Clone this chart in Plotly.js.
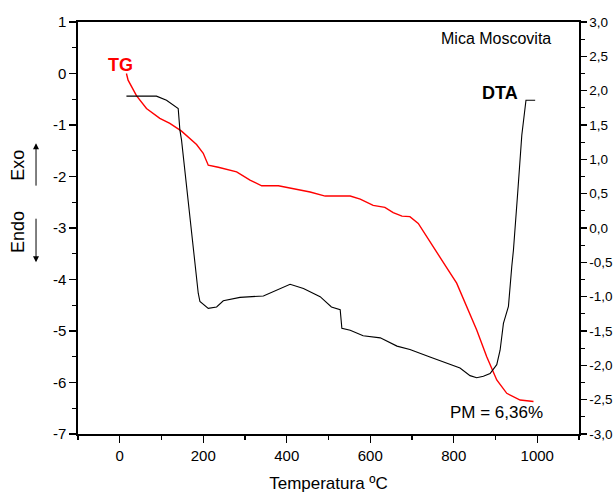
<!DOCTYPE html>
<html>
<head>
<meta charset="utf-8">
<script src="https://cdn.plot.ly/plotly-3.0.1.min.js"></script>
<style>html,body{margin:0;padding:0;background:#fff;}#chart{width:614px;height:494px;}</style>
</head>
<body>
<div id="chart"></div>
<script>
// TG curve (left axis, mass change %)
const tgTemp = [16, 20, 40, 64, 96, 120, 148, 172, 184, 200, 212, 236, 280, 312, 340, 380, 456, 492, 552, 576, 607, 635, 655, 676, 695, 715, 735, 759, 783, 807, 831, 855, 879, 903, 927, 959, 991];
const tgVal  = [0, -0.13, -0.43, -0.68, -0.87, -0.97, -1.12, -1.29, -1.38, -1.55, -1.78, -1.82, -1.91, -2.07, -2.18, -2.18, -2.30, -2.38, -2.38, -2.44, -2.56, -2.60, -2.70, -2.77, -2.78, -2.91, -3.17, -3.46, -3.77, -4.07, -4.53, -4.98, -5.50, -5.95, -6.21, -6.34, -6.37];

// DTA curve (right axis)
const dtaTemp = [16, 88, 112, 140, 144, 148, 188, 192, 212, 232, 248, 288, 344, 376, 408, 440, 480, 507, 528, 532, 552, 583, 624, 664, 695, 743, 783, 815, 839, 855, 871, 887, 903, 911, 919, 931, 939, 943, 953, 963, 973, 995];
const dtaVal  = [1.92, 1.92, 1.86, 1.74, 1.43, 1.28, -0.95, -1.07, -1.17, -1.15, -1.06, -1.01, -0.99, -0.90, -0.82, -0.88, -1.00, -1.15, -1.19, -1.46, -1.49, -1.57, -1.60, -1.72, -1.77, -1.88, -1.97, -2.04, -2.15, -2.18, -2.16, -2.12, -1.99, -1.78, -1.39, -1.14, -0.56, -0.32, 0.50, 1.35, 1.86, 1.86];

// Tick labels
const xTickVals = [0, 200, 400, 600, 800, 1000];
const xTickText = ["0", "200", "400", "600", "800", "1000"];
const yTickVals = [-7, -6, -5, -4, -3, -2, -1, 0, 1];
const yTickText = ["-7", "-6", "-5", "-4", "-3", "-2", "-1", "0", "1"];
const y2TickVals = [-3, -2.5, -2, -1.5, -1, -0.5, 0, 0.5, 1, 1.5, 2, 2.5, 3];
const y2TickText = ["-3,0", "-2,5", "-2,0", "-1,5", "-1,0", "-0,5", "0,0", "0,5", "1,0", "1,5", "2,0", "2,5", "3,0"];

const FONT = "Liberation Sans, Arial, Helvetica, sans-serif";

const traces = [
  {x: tgTemp, y: tgVal, type: 'scatter', mode: 'lines', yaxis: 'y',
   line: {color: '#ff0000', width: 1.4}, hoverinfo: 'skip'},
  {x: dtaTemp, y: dtaVal, type: 'scatter', mode: 'lines', yaxis: 'y2',
   line: {color: '#000000', width: 1.1}, hoverinfo: 'skip'}
];

const axisCommon = {
  showgrid: false, zeroline: false, showline: true, linecolor: '#000', linewidth: 1.6,
  ticks: 'outside', ticklen: 7, tickwidth: 1.3, tickcolor: '#000',
  tickfont: {family: FONT, size: 15, color: '#000'}
};

const layout = {
  width: 614, height: 494,
  margin: {l: 78, r: 35, t: 22, b: 60, pad: 0},
  paper_bgcolor: '#fff', plot_bgcolor: '#fff',
  showlegend: false,
  font: {family: FONT, color: '#000'},
  xaxis: Object.assign({}, axisCommon, {
    range: [-100, 1100], tickmode: 'array', tickvals: xTickVals, ticktext: xTickText,
    mirror: true,
    minor: {tick0: 0, dtick: 100, ticks: 'outside', ticklen: 4, tickwidth: 1.3, tickcolor: '#000'},
    title: {text: 'Temperatura ºC', font: {family: FONT, size: 17, color: '#000'}, standoff: 14}
  }),
  yaxis: Object.assign({}, axisCommon, {
    range: [-7, 1], tickmode: 'array', tickvals: yTickVals, ticktext: yTickText,
    minor: {tick0: 0, dtick: 0.5, ticks: 'outside', ticklen: 4, tickwidth: 1.3, tickcolor: '#000'}
  }),
  yaxis2: Object.assign({}, axisCommon, {
    range: [-3, 3], overlaying: 'y', side: 'right', anchor: 'x',
    ticklen: 6,
    tickfont: {family: FONT, size: 13.5, color: '#000'},
    tickmode: 'array', tickvals: y2TickVals, ticktext: y2TickText,
    minor: {tick0: 0, dtick: 0.25, ticks: 'outside', ticklen: 4, tickwidth: 1.3, tickcolor: '#000'}
  }),
  annotations: [
    {xref: 'paper', yref: 'paper', x: 0.948, y: 0.961, xanchor: 'right', yanchor: 'middle',
     text: 'Mica Moscovita', showarrow: false, font: {family: FONT, size: 16, color: '#000'}},
    {xref: 'paper', yref: 'paper', x: 0.084, y: 0.896, xanchor: 'center', yanchor: 'middle',
     text: '<b>TG</b>', showarrow: false, font: {family: FONT, size: 18, color: '#ff0000'}},
    {xref: 'paper', yref: 'paper', x: 0.842, y: 0.828, xanchor: 'center', yanchor: 'middle',
     text: '<b>DTA</b>', showarrow: false, font: {family: FONT, size: 18, color: '#000'}},
    {xref: 'paper', yref: 'paper', x: 0.836, y: 0.053, xanchor: 'center', yanchor: 'middle',
     text: 'PM = 6,36%', showarrow: false, font: {family: FONT, size: 17, color: '#000'}},
    {xref: 'paper', yref: 'paper', x: -0.12, y: 0.653, xanchor: 'center', yanchor: 'middle',
     text: 'Exo', textangle: -90, showarrow: false, font: {family: FONT, size: 18, color: '#000'}},
    {xref: 'paper', yref: 'paper', x: -0.12, y: 0.49, xanchor: 'center', yanchor: 'middle',
     text: 'Endo', textangle: -90, showarrow: false, font: {family: FONT, size: 18, color: '#000'}},
    {xref: 'paper', yref: 'paper', x: -0.0838, y: 0.706, text: '', showarrow: true,
     ax: 0, ay: 44, arrowhead: 2, arrowsize: 1.2, arrowwidth: 1, arrowcolor: '#000'},
    {xref: 'paper', yref: 'paper', x: -0.0838, y: 0.417, text: '', showarrow: true,
     ax: 0, ay: -45, arrowhead: 2, arrowsize: 1.2, arrowwidth: 1, arrowcolor: '#000'}
  ]
};

Plotly.newPlot('chart', traces, layout, {displayModeBar: false, staticPlot: true});
</script>
</body>
</html>
